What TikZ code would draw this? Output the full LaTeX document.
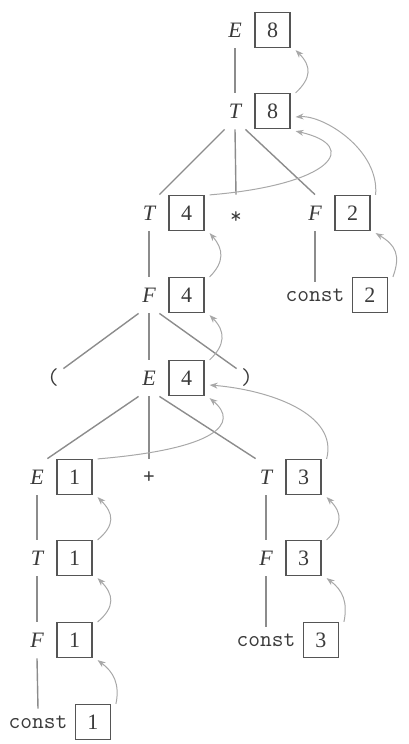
\documentclass[tikz,border=0pt]{standalone}
\usepackage{fontspec}
\setmainfont{Liberation Serif}
\usepackage{tikz}
\usetikzlibrary{positioning}
\usetikzlibrary{arrows.meta}
\definecolor{inkgray}{HTML}{3A3A3A}
\definecolor{boxgray}{HTML}{555555}
\definecolor{edgegray}{HTML}{8C8C8C}
\definecolor{linkgray}{HTML}{A8A8A8}
\tikzset{
	sym/.style={rectangle, inner sep=0pt, minimum width=10pt, minimum height=18pt, text=inkgray, font=\fontsize{11}{13}\selectfont\itshape},
	op/.style={sym, font=\ttfamily\fontsize{11.4}{13}\selectfont},
	pun/.style={rectangle, inner sep=0pt, minimum width=10pt, minimum height=9pt, text=inkgray, font=\ttfamily\fontsize{11.4}{13}\selectfont},
	term/.style={rectangle, inner sep=1pt, minimum height=13pt, text=inkgray, font=\ttfamily\fontsize{11.4}{13}\selectfont},
	val/.style={draw=boxgray, line width=0.6pt, minimum size=17.5pt, inner sep=0pt, text=inkgray, font=\fontsize{11}{13}\selectfont},
	branch/.style={draw=edgegray, line width=0.7pt},
	link/.style={draw=linkgray, line width=0.5pt, -{Stealth[length=4pt,width=3pt]}}
}
\begin{document}
\begin{tikzpicture}[x=0.5pt, y=-0.5pt]
		\useasboundingbox (0,0) rectangle (408,744);
		
		\node[sym] (e0) at (235,30) {E};
		\node[sym] (t0) at (235,111) {T};
		\node[sym] (t1) at (149,213) {T};
		\node[op, text height=10pt, text depth=0pt] (op0) at (236,213) {*};
		\node[sym] (f0) at (315,213) {F};
		\node[sym] (f1) at (149,295) {F};
		\node[term] (c0) at (315,295) {const};
		\node[pun] (lp) at (53,378) {(};
		\node[sym] (e1) at (149,378) {E};
		\node[pun] (rp) at (247,378) {)};
		\node[sym] (e2) at (37,477) {E};
		\node[op] (op1) at (149,477) {+};
		\node[sym] (t2) at (266,477) {T};
		\node[sym] (t3) at (37,558) {T};
		\node[sym] (f3) at (266,558) {F};
		\node[sym] (f2) at (37,640) {F};
		\node[term] (c2) at (266,640) {const};
		\node[term] (c1) at (38,722) {const};
		
		\node[val, right=4.5pt of e0] (e0v) {8};
		\node[val, right=4.5pt of t0] (t0v) {8};
		\node[val, right=4.5pt of t1] (t1v) {4};
		\node[val, right=4.5pt of f0] (f0v) {2};
		\node[val, right=4.5pt of f1] (f1v) {4};
		\node[val, right=2.5pt of c0] (c0v) {2};
		\node[val, right=4.5pt of e1] (e1v) {4};
		\node[val, right=4.5pt of e2] (e2v) {1};
		\node[val, right=4.5pt of t2] (t2v) {3};
		\node[val, right=4.5pt of t3] (t3v) {1};
		\node[val, right=4.5pt of f3] (f3v) {3};
		\node[val, right=4.5pt of f2] (f2v) {1};
		\node[val, right=2.5pt of c2] (c2v) {3};
		\node[val, right=2.5pt of c1] (c1v) {1};
		
		\draw[branch] (e0.south) -- (t0.north);
		\draw[branch] (t0.south west) -- (t1.north east);
		\draw[branch] (t0.south) -- (op0.north);
		\draw[branch] (t0.south east) -- (f0.north);
		\draw[branch] (t1.south) -- (f1.north);
		\draw[branch] (f0.south) -- (c0.north);
		\draw[branch] (f1.south west) -- (lp.north east);
		\draw[branch] (f1.south) -- (e1.north);
		\draw[branch] (f1.south east) -- (rp.north west);
		\draw[branch] (e1.south west) -- (e2.north east);
		\draw[branch] (e1.south) -- (op1.north);
		\draw[branch] (e1.south east) -- (t2.north west);
		\draw[branch] (e2.south) -- (t3.north);
		\draw[branch] (t3.south) -- (f2.north);
		\draw[branch] (f2.south) -- (c1.north);
		\draw[branch] (t2.south) -- (f3.north);
		\draw[branch] (f3.south) -- (c2.north);
		
		\draw[link] ([xshift=2.5pt]t0v.north east) .. controls +(16,-15) and +(16,16) .. ([xshift=2.5pt,yshift=-1pt]e0v.south east);
		\draw[link] ([xshift=2.5pt]t1v.north east) .. controls +(122,-10) and +(66,15) .. ([xshift=2.5pt,yshift=-1pt]t0v.south east);
		\draw[link] ([xshift=2.5pt]f0v.north east) .. controls +(4,-45) and +(28,-2) .. ([xshift=2.5pt,yshift=-3pt]t0v.east);
		\draw[link] ([xshift=2.5pt]f1v.north east) .. controls +(15,-15) and +(14,16) .. ([xshift=2.5pt,yshift=-1pt]t1v.south east);
		\draw[link] ([xshift=2.5pt]c0v.north east) .. controls +(8,-22) and +(20,12) .. ([xshift=2.5pt,yshift=-1pt]f0v.south east);
		\draw[link] ([xshift=2.5pt]e1v.north east) .. controls +(16,-15) and +(16,16) .. ([xshift=2.5pt,yshift=-1pt]f1v.south east);
		\draw[link] ([xshift=2.5pt]e2v.north east) .. controls +(120,-10) and +(30,25) .. ([xshift=2.5pt,yshift=-1pt]e1v.south east);
		\draw[link] ([xshift=2.5pt]t2v.north east) .. controls +(12,-45) and +(60,5) .. ([xshift=2.5pt,yshift=-3.5pt]e1v.east);
		\draw[link] ([xshift=2.5pt]t3v.north east) .. controls +(18,-15) and +(16,16) .. ([xshift=2.5pt,yshift=-1pt]e2v.south east);
		\draw[link] ([xshift=2.5pt]f2v.north east) .. controls +(18,-15) and +(16,16) .. ([xshift=2.5pt,yshift=-1pt]t3v.south east);
		\draw[link] ([xshift=2.5pt]c1v.north east) .. controls +(4,-20) and +(16,12) .. ([xshift=2.5pt,yshift=-1pt]f2v.south east);
		\draw[link] ([xshift=2.5pt]f3v.north east) .. controls +(16,-15) and +(16,16) .. ([xshift=2.5pt,yshift=-1pt]t2v.south east);
		\draw[link] ([xshift=2.5pt]c2v.north east) .. controls +(4,-20) and +(16,12) .. ([xshift=2.5pt,yshift=-1pt]f3v.south east);
	\end{tikzpicture}
\end{document}
